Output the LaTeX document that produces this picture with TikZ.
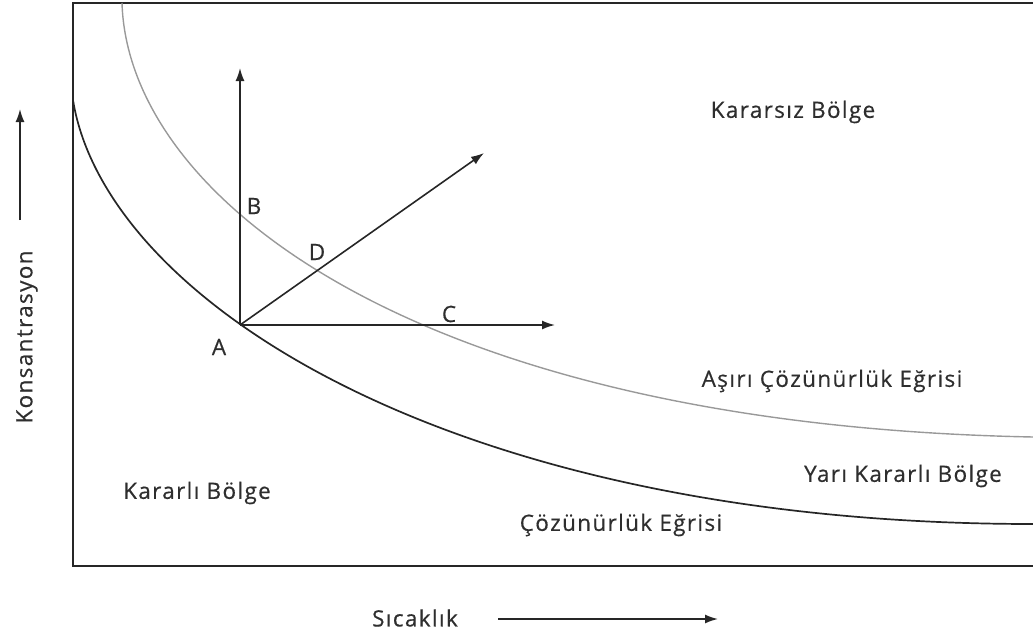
\documentclass[tikz,border=0pt]{standalone}
\usepackage{fontspec}
\setmainfont{Open Sans}
\newfontfamily\lblfont{Open Sans}[LetterSpace=6,FakeBold=0.5]
\usetikzlibrary{arrows.meta}
\begin{document}
\begin{tikzpicture}[x=1pt,y=-1pt,
  lbl/.style={font=\lblfont\fontsize{22.5}{26}\selectfont, text=black!82, inner sep=0pt},
  arr/.style={line width=1.6pt, black!85, -{Latex[length=13pt,width=9pt]}},
  curveblack/.style={line width=1.7pt, black!85},
  curvegray/.style={line width=1.4pt, black!40}]
\useasboundingbox (0,0) rectangle (1033,637);
% frame
\draw[line width=1.6pt, black!85] (1040,3) -- (73,3) -- (73,566) -- (1040,566);
% curves
\coordinate (s0) at (73,100);
\coordinate (s1) at (1033,524);
\coordinate (g0) at (122,3);
\coordinate (g1) at (1033,437);
\draw[curveblack] (s0) .. controls (105,300) and (450,524) .. (s1);
\draw[curvegray] (g0) .. controls (128,200) and (420,425) .. (g1);
% arrows
\coordinate (O) at (240,325);
\coordinate (Up) at (240,68);
\coordinate (Right) at (555,325);
\coordinate (Diag) at (484,153);
\draw[arr] (O) -- (Up);
\draw[arr] (O) -- (Right);
\draw[arr] (O) -- (Diag);
% point labels
\node[lbl] (A) at (219,347) {A};
\node[lbl] (B) at (254,206) {B};
\node[lbl] (D) at (317,252) {D};
\node[lbl] (C) at (449,314) {C};
% region labels
\node[lbl] (kararsiz) at (793,112) {Kararsız Bölge};
\node[lbl] (asiri) at (832,381) {Aşırı Çözünürlük Eğrisi};
\node[lbl] (yari) at (903,476) {Yarı Kararlı Bölge};
\node[lbl] (kararli) at (197,493) {Kararlı Bölge};
\node[lbl] (cozun) at (621,525) {Çözünürlük Eğrisi};
% axes
\node[lbl] (sic) at (415,618) {Sıcaklık};
\coordinate (xa1) at (498,619);
\coordinate (xa2) at (718,619);
\draw[arr] (xa1) -- (xa2);
\node[lbl, rotate=90] (kons) at (27,337) {Konsantrasyon};
\coordinate (ya1) at (20,220);
\coordinate (ya2) at (20,109);
\draw[arr] (ya1) -- (ya2);
\end{tikzpicture}
\end{document}
